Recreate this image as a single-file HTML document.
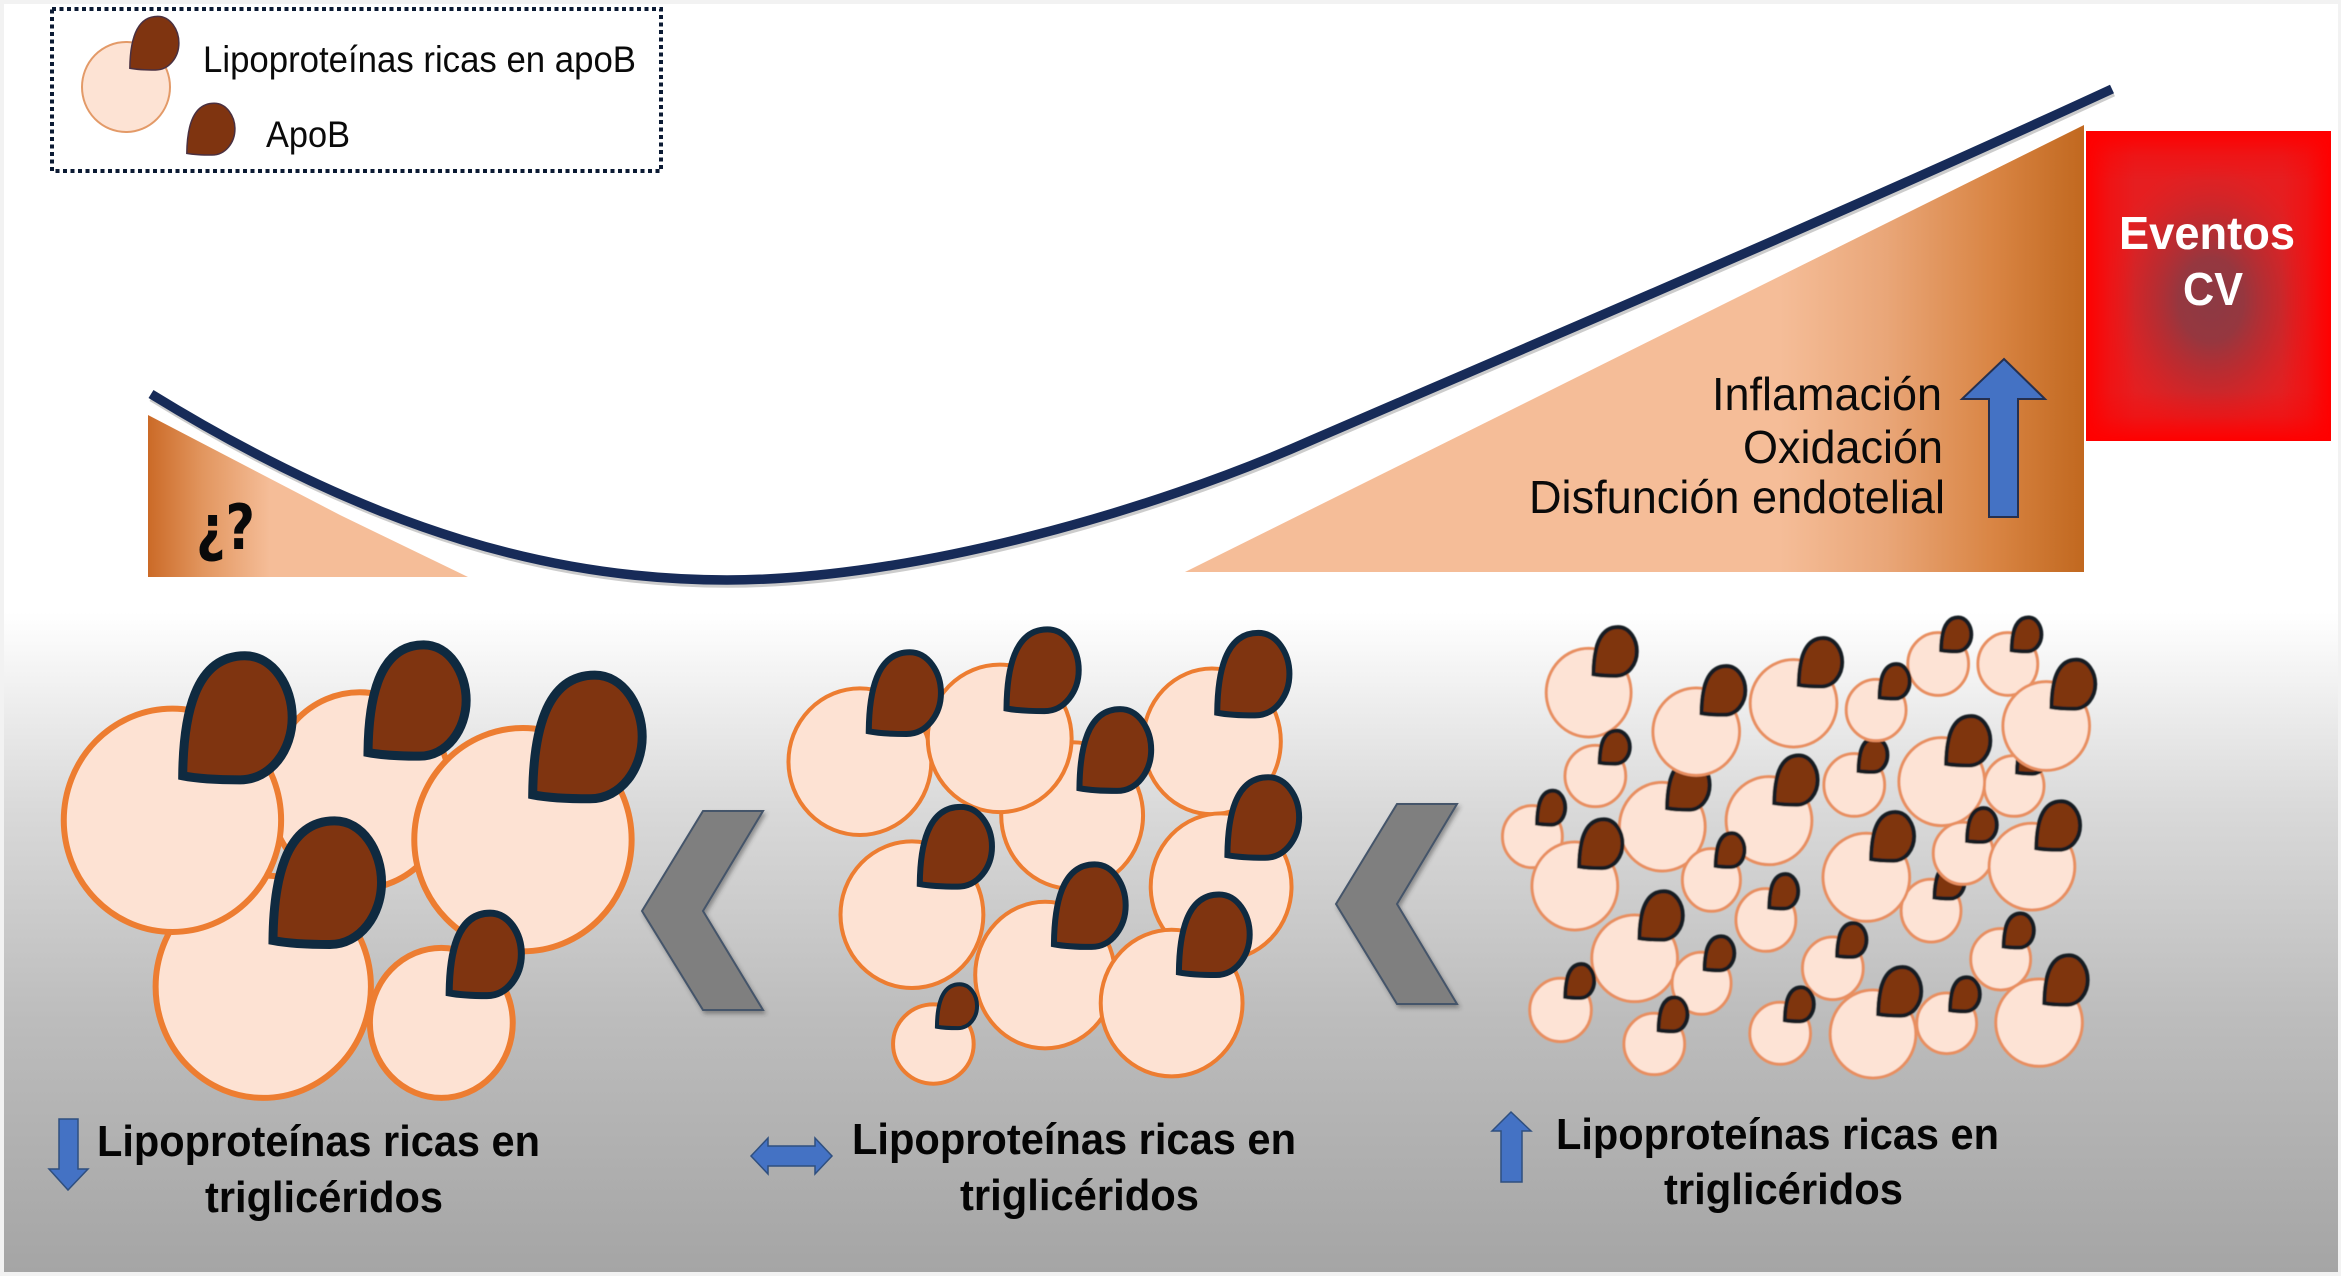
<!DOCTYPE html>
<html lang="es">
<head>
<meta charset="utf-8">
<title>Lipoproteínas ricas en apoB</title>
<style>
html,body{margin:0;padding:0;background:#fff;width:2341px;height:1276px;overflow:hidden}
svg{display:block;font-family:"Liberation Sans",sans-serif}
ellipse,.dp{vector-effect:non-scaling-stroke}
</style>
</head>
<body>
<svg width="2341" height="1276" viewBox="0 0 2341 1276" xmlns="http://www.w3.org/2000/svg">
<defs>
<linearGradient id="bg" gradientUnits="userSpaceOnUse" x1="0" y1="612" x2="0" y2="1272">
<stop offset="0" stop-color="#ffffff"/><stop offset=".3" stop-color="#d9d9d9"/><stop offset=".62" stop-color="#bcbcbc"/><stop offset="1" stop-color="#a5a5a5"/>
</linearGradient>
<linearGradient id="tl" gradientUnits="userSpaceOnUse" x1="148" y1="0" x2="270" y2="0">
<stop offset="0" stop-color="#cb6a27"/><stop offset=".45" stop-color="#e2965f"/><stop offset="1" stop-color="#f5bd98"/>
</linearGradient>
<linearGradient id="tr" gradientUnits="userSpaceOnUse" x1="1780" y1="0" x2="2084" y2="0">
<stop offset="0" stop-color="#f5bd98"/><stop offset=".35" stop-color="#e9a678"/><stop offset=".7" stop-color="#d98544"/><stop offset="1" stop-color="#c1681f"/>
</linearGradient>
<linearGradient id="rh" x1="0" y1="0" x2="1" y2="0">
<stop offset="0" stop-color="#ff0000"/><stop offset=".1" stop-color="#ff0000" stop-opacity=".35"/><stop offset=".2" stop-color="#ff0000" stop-opacity="0"/><stop offset=".8" stop-color="#ff0000" stop-opacity="0"/><stop offset=".9" stop-color="#ff0000" stop-opacity=".35"/><stop offset="1" stop-color="#ff0000"/>
</linearGradient>
<linearGradient id="rv" x1="0" y1="0" x2="0" y2="1">
<stop offset="0" stop-color="#ff0000"/><stop offset=".08" stop-color="#ff0000" stop-opacity=".3"/><stop offset=".16" stop-color="#ff0000" stop-opacity="0"/><stop offset=".84" stop-color="#ff0000" stop-opacity="0"/><stop offset=".92" stop-color="#ff0000" stop-opacity=".3"/><stop offset="1" stop-color="#ff0000"/>
</linearGradient>
<radialGradient id="red">
<stop offset="0" stop-color="#8c3a44"/><stop offset=".3" stop-color="#96373f"/><stop offset=".6" stop-color="#b32e33" stop-opacity=".7"/><stop offset="1" stop-color="#cf2a2c" stop-opacity="0"/>
</radialGradient>
<path id="d" class="dp" d="M.035,.935C.04,.5 .13,.04 .56,.04C.8,.04 .96,.27 .96,.5C.96,.74 .78,.965 .52,.965C.36,.965 .18,.96 .035,.935Z"/>
<filter id="sh" x="-10%" y="-10%" width="125%" height="125%"><feDropShadow dx="2" dy="3" stdDeviation="2" flood-color="#333" flood-opacity=".45"/></filter>
<filter id="bl" x="-5%" y="-5%" width="110%" height="110%"><feGaussianBlur stdDeviation=".6"/></filter>
</defs>

<!-- background -->
<rect width="2341" height="1276" fill="#f2f2f2"/>
<rect x="4" y="4" width="2334" height="1268" fill="#fff"/>
<rect x="4" y="600" width="2334" height="672" fill="url(#bg)"/>

<!-- legend -->
<rect x="52" y="9" width="609" height="162" fill="none" stroke="#0b1a33" stroke-width="4" stroke-dasharray="4 3.5"/>
<ellipse cx="126" cy="87" rx="44" ry="45" fill="#fde3d4" stroke="#e39a68" stroke-width="2"/>
<g fill="#7f3410" stroke="#4a3040" stroke-width="1.5">
<use href="#d" transform="translate(128 14) scale(53 58)"/>
<use href="#d" transform="translate(185 101) scale(52 56)"/>
</g>
<text x="203" y="72" font-size="37" textLength="433" lengthAdjust="spacingAndGlyphs" fill="#0a0a0a">Lipoproteínas ricas en apoB</text>
<text x="266" y="147" font-size="37" textLength="84" lengthAdjust="spacingAndGlyphs" fill="#0a0a0a">ApoB</text>

<!-- triangles -->
<polygon points="148,415 148,577 468,577 340,515" fill="url(#tl)"/>
<text x="196" y="549" font-size="62" font-weight="bold" font-family="'DejaVu Sans',sans-serif" textLength="59" lengthAdjust="spacingAndGlyphs" fill="#0a0a0a">¿?</text>
<polygon points="2084,125 2084,572 1185,572" fill="url(#tr)"/>

<!-- curve -->
<path d="M151,394C380,535 560,580 727,580C910,580 1150,512 1312,440C1590,320 1850,210 2112,89" fill="none" stroke="#555" stroke-opacity=".3" stroke-width="9.5" transform="translate(1 3)"/>
<path d="M151,394C380,535 560,580 727,580C910,580 1150,512 1312,440C1590,320 1850,210 2112,89" fill="none" stroke="#172b58" stroke-width="9.5"/>

<!-- right side labels -->
<text x="1712" y="410" font-size="46" textLength="230" lengthAdjust="spacingAndGlyphs" fill="#0a0a0a">Inflamación</text>
<text x="1743" y="463" font-size="46" textLength="200" lengthAdjust="spacingAndGlyphs" fill="#0a0a0a">Oxidación</text>
<text x="1529" y="513" font-size="46" textLength="416" lengthAdjust="spacingAndGlyphs" fill="#0a0a0a">Disfunción endotelial</text>
<polygon points="2004,359 2045,399 2018,399 2018,517 1989,517 1989,399 1962,399" fill="#4472c4" stroke="#26304f" stroke-width="2"/>

<!-- red box -->
<rect x="2086" y="131" width="245" height="310" fill="#e61e20"/>
<ellipse cx="2211" cy="300" rx="108" ry="140" fill="url(#red)"/>
<rect x="2086" y="131" width="245" height="310" fill="url(#rh)"/>
<rect x="2086" y="131" width="245" height="310" fill="url(#rv)"/>
<text x="2119" y="249" font-size="46" font-weight="bold" textLength="176" lengthAdjust="spacingAndGlyphs" fill="#fff">Eventos</text>
<text x="2183" y="305" font-size="46" font-weight="bold" textLength="60" lengthAdjust="spacingAndGlyphs" fill="#fff">CV</text>

<!-- panel 1 -->
<g transform="translate(0 600) scale(.5102 .4311)">
<g fill="#fde2d3" stroke="#ed7d31" stroke-width="6">
<ellipse cx="705" cy="442" rx="178" ry="228"/>
<ellipse cx="516" cy="897" rx="211" ry="258"/>
<ellipse cx="338" cy="511" rx="213" ry="259"/>
<ellipse cx="1025" cy="556" rx="213" ry="259"/>
<ellipse cx="865" cy="981" rx="140" ry="174"/>
</g>
<g fill="#7f3410" stroke="#0f2a40" stroke-width="9">
<use href="#d" transform="translate(350 117) scale(232 311)"/>
<use href="#d" transform="translate(714 93) scale(208 279)"/>
<use href="#d" transform="translate(1036 162) scale(232 310)"/>
<use href="#d" transform="translate(527 500) scale(230 310)"/>
<use href="#d" stroke-width="7" transform="translate(875 718) scale(153 207)"/>
</g>
</g>
<polygon points="703,811 763,811 703,911 763,1010 703,1010 642,911" fill="#7f7f7f" stroke="#44546a" stroke-width="2" filter="url(#sh)"/>

<!-- panel 2 -->
<g transform="translate(740 600) scale(.5102 .4311)">
<g fill="#fde2d3" stroke="#ed7d31" stroke-width="4">
<ellipse cx="651" cy="500" rx="139" ry="170"/>
<ellipse cx="235" cy="375" rx="140" ry="170"/>
<ellipse cx="509" cy="321" rx="141" ry="171"/>
<ellipse cx="925" cy="328" rx="135" ry="169"/>
<ellipse cx="943" cy="665" rx="138" ry="170"/>
<ellipse cx="337" cy="730" rx="140" ry="170"/>
<ellipse cx="598" cy="870" rx="137" ry="170"/>
<ellipse cx="846" cy="935" rx="139" ry="170"/>
<ellipse cx="379" cy="1030" rx="79" ry="92"/>
</g>
<g fill="#7f3410" stroke="#0f2a40" stroke-width="6">
<use href="#d" transform="translate(247 113) scale(153 205)"/>
<use href="#d" transform="translate(517 60) scale(153 205)"/>
<use href="#d" transform="translate(660 245) scale(152 205)"/>
<use href="#d" transform="translate(930 68) scale(153 207)"/>
<use href="#d" transform="translate(950 403) scale(152 202)"/>
<use href="#d" transform="translate(347 472) scale(153 200)"/>
<use href="#d" transform="translate(610 605) scale(152 207)"/>
<use href="#d" transform="translate(855 675) scale(150 202)"/>
<use href="#d" stroke-width="4" transform="translate(383 887) scale(85 110)"/>
</g>
</g>
<polygon points="1397,804 1457,804 1397,904 1457,1004 1397,1004 1336,904" fill="#7f7f7f" stroke="#44546a" stroke-width="2" filter="url(#sh)"/>

<!-- panel 3 -->
<g filter="url(#bl)">
<g transform="translate(1440 590) scale(.4464 .3333)">
<!-- circles whose drops are overlapped by neighbours -->
<g fill="#fde3d5" stroke="#e88f60" stroke-width="3">
<ellipse cx="498" cy="710" rx="96" ry="133"/>
<ellipse cx="1286" cy="588" rx="67" ry="91"/>
<ellipse cx="1100" cy="962" rx="67" ry="94"/>
<ellipse cx="928" cy="585" rx="68" ry="94"/>
</g>
<g fill="#7f3410" stroke="#121e22" stroke-width="4">
<use href="#d" transform="translate(505 505) scale(103 160)"/>
<use href="#d" transform="translate(1290 445) scale(72 110)"/>
<use href="#d" transform="translate(1105 820) scale(73 110)"/>
<use href="#d" transform="translate(935 440) scale(70 110)"/>
</g>
<g fill="#fde3d5" stroke="#e88f60" stroke-width="3">
<ellipse cx="333" cy="308" rx="95" ry="133"/>
<ellipse cx="574" cy="425" rx="97" ry="131"/>
<ellipse cx="792" cy="340" rx="97" ry="131"/>
<ellipse cx="977" cy="360" rx="67" ry="92"/>
<ellipse cx="1116" cy="222" rx="68" ry="94"/>
<ellipse cx="1272" cy="222" rx="67" ry="94"/>
<ellipse cx="1358" cy="408" rx="97" ry="133"/>
<ellipse cx="348" cy="558" rx="68" ry="92"/>
<ellipse cx="737" cy="692" rx="96" ry="132"/>
<ellipse cx="1124" cy="575" rx="96" ry="132"/>
<ellipse cx="207" cy="740" rx="67" ry="93"/>
<ellipse cx="302" cy="888" rx="96" ry="132"/>
<ellipse cx="608" cy="870" rx="65" ry="94"/>
<ellipse cx="955" cy="862" rx="97" ry="132"/>
<ellipse cx="1172" cy="790" rx="67" ry="93"/>
<ellipse cx="1326" cy="830" rx="96" ry="130"/>
<ellipse cx="730" cy="990" rx="67" ry="94"/>
<ellipse cx="436" cy="1105" rx="96" ry="130"/>
<ellipse cx="586" cy="1180" rx="66" ry="93"/>
<ellipse cx="880" cy="1135" rx="68" ry="94"/>
<ellipse cx="1256" cy="1108" rx="67" ry="92"/>
<ellipse cx="270" cy="1260" rx="69" ry="95"/>
<ellipse cx="480" cy="1362" rx="68" ry="92"/>
<ellipse cx="762" cy="1330" rx="68" ry="93"/>
<ellipse cx="970" cy="1332" rx="96" ry="132"/>
<ellipse cx="1135" cy="1300" rx="67" ry="91"/>
<ellipse cx="1342" cy="1298" rx="97" ry="131"/>
</g>
<g fill="#7f3410" stroke="#121e22" stroke-width="4">
<use href="#d" transform="translate(340 105) scale(105 158)"/>
<use href="#d" transform="translate(582 222) scale(106 158)"/>
<use href="#d" transform="translate(800 138) scale(105 157)"/>
<use href="#d" transform="translate(982 218) scale(73 112)"/>
<use href="#d" transform="translate(1120 78) scale(73 110)"/>
<use href="#d" transform="translate(1278 78) scale(72 110)"/>
<use href="#d" transform="translate(1366 203) scale(106 159)"/>
<use href="#d" transform="translate(355 418) scale(73 107)"/>
<use href="#d" transform="translate(745 490) scale(105 160)"/>
<use href="#d" transform="translate(1130 372) scale(107 160)"/>
<use href="#d" transform="translate(215 598) scale(68 110)"/>
<use href="#d" transform="translate(308 682) scale(105 158)"/>
<use href="#d" transform="translate(615 725) scale(70 110)"/>
<use href="#d" transform="translate(962 660) scale(104 158)"/>
<use href="#d" transform="translate(1178 650) scale(72 110)"/>
<use href="#d" transform="translate(1332 628) scale(106 157)"/>
<use href="#d" transform="translate(735 848) scale(70 112)"/>
<use href="#d" transform="translate(443 898) scale(105 157)"/>
<use href="#d" transform="translate(590 1035) scale(72 110)"/>
<use href="#d" transform="translate(887 995) scale(71 110)"/>
<use href="#d" transform="translate(1260 966) scale(73 111)"/>
<use href="#d" transform="translate(278 1118) scale(70 110)"/>
<use href="#d" transform="translate(487 1218) scale(70 110)"/>
<use href="#d" transform="translate(770 1188) scale(70 110)"/>
<use href="#d" transform="translate(978 1125) scale(104 158)"/>
<use href="#d" transform="translate(1140 1158) scale(72 110)"/>
<use href="#d" transform="translate(1350 1090) scale(105 160)"/>
</g>
</g>
</g>

<!-- bottom labels -->
<polygon points="59,1119 78,1119 78,1169 88,1169 68,1190 49,1169 59,1169" fill="#4472c4" stroke="#2f4f7f" stroke-width="1.5"/>
<text x="97" y="1156" font-size="44" font-weight="bold" textLength="443" lengthAdjust="spacingAndGlyphs" fill="#050505">Lipoproteínas ricas en</text>
<text x="205" y="1212" font-size="44" font-weight="bold" textLength="238" lengthAdjust="spacingAndGlyphs" fill="#050505">triglicéridos</text>

<polygon points="751,1156 768,1138 768,1146 815,1146 815,1138 832,1156 815,1174 815,1166 768,1166 768,1174" fill="#4472c4" stroke="#2f4f7f" stroke-width="1.5"/>
<text x="852" y="1154" font-size="44" font-weight="bold" textLength="444" lengthAdjust="spacingAndGlyphs" fill="#050505">Lipoproteínas ricas en</text>
<text x="960" y="1210" font-size="44" font-weight="bold" textLength="239" lengthAdjust="spacingAndGlyphs" fill="#050505">triglicéridos</text>

<polygon points="1511,1112 1531,1131 1522,1131 1522,1182 1501,1182 1501,1131 1492,1131" fill="#4472c4" stroke="#2f4f7f" stroke-width="1.5"/>
<text x="1556" y="1149" font-size="44" font-weight="bold" textLength="443" lengthAdjust="spacingAndGlyphs" fill="#050505">Lipoproteínas ricas en</text>
<text x="1664" y="1204" font-size="44" font-weight="bold" textLength="239" lengthAdjust="spacingAndGlyphs" fill="#050505">triglicéridos</text>
</svg>
</body>
</html>
